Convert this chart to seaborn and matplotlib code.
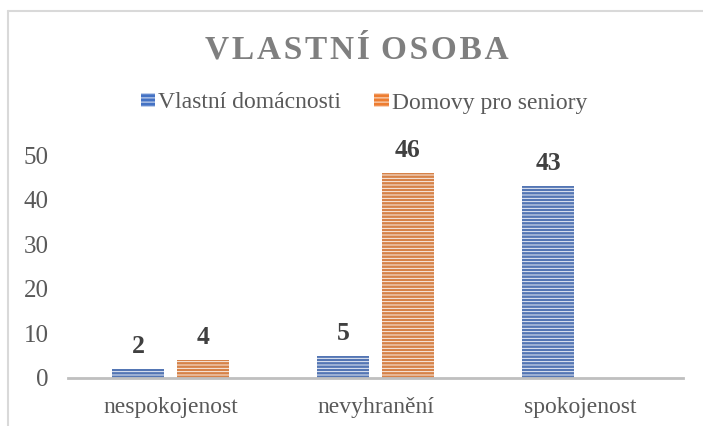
import pandas as pd
import numpy as np
import matplotlib.pyplot as plt
import seaborn as sns
from matplotlib.patches import Patch

categories = ["nespokojenost", "nevyhranění", "spokojenost"]
series = ["Vlastní domácnosti", "Domovy pro seniory"]
vlastni = [2, 5, 43]
domovy = [4, 46, np.nan]
colors = ["#4472C4", "#ED7D31"]

df = pd.DataFrame({
    "kategorie": categories * 2,
    "skupina": [series[0]] * 3 + [series[1]] * 3,
    "pocet": vlastni + domovy,
})

sns.set_style("white")
plt.rcParams["font.family"] = ["Liberation Serif", "DejaVu Serif"]
plt.rcParams["hatch.linewidth"] = 0.6

fig = plt.figure(figsize=(7.03, 4.26), dpi=100)
ax = fig.add_axes([68 / 703, 1 - 378 / 426, 615 / 703, 223 / 426])

sns.barplot(data=df, x="kategorie", y="pocet", hue="skupina", order=categories,
            hue_order=series, palette=colors, width=0.634, gap=0.185,
            edgecolor="white", linewidth=0, legend=False, ax=ax)

for cont in ax.containers:
    for p in cont:
        p.set_hatch("-----")
        p.set_edgecolor("white")
    ax.bar_label(cont, fmt="%g", padding=8, fontsize=18.5, fontweight="bold",
                 color="#404040")

ax.set_ylim(0, 50)
ax.set_yticks([0, 10, 20, 30, 40, 50])
ax.set_xlabel("")
ax.set_ylabel("")
ax.tick_params(axis="y", length=0, labelsize=18, labelcolor="#595959", pad=14)
ax.tick_params(axis="x", length=0, labelsize=17, labelcolor="#595959", pad=14)
for s in ["top", "right", "left"]:
    ax.spines[s].set_visible(False)
ax.spines["bottom"].set_color("#BFBFBF")
ax.spines["bottom"].set_linewidth(2)

hs = "\u200a"
title = hs.join("VLASTNÍ") + " " + hs + hs.join("OSOBA")
fig.text(0.507, 1 - 50 / 426, title,
         ha="center", va="center", fontsize=24, fontweight="bold", color="#7F7F7F")

handles = [Patch(facecolor=c, edgecolor="white", hatch="----", linewidth=0) for c in colors]
fig.legend(handles, series, loc="center", bbox_to_anchor=(0.518, 1 - 103 / 426),
           ncol=2, frameon=False, fontsize=17, handlelength=0.6, handleheight=0.55,
           handletextpad=0.15, columnspacing=1.4, labelcolor="#595959")

# chart border (left and top edge visible)
fig.add_artist(plt.Line2D([8 / 703, 8 / 703], [0, 1 - 11 / 426], color="#D9D9D9", lw=1.5))
fig.add_artist(plt.Line2D([8 / 703, 1], [1 - 11 / 426, 1 - 11 / 426], color="#D9D9D9", lw=1.5))

fig.savefig("out.png", dpi=100)
